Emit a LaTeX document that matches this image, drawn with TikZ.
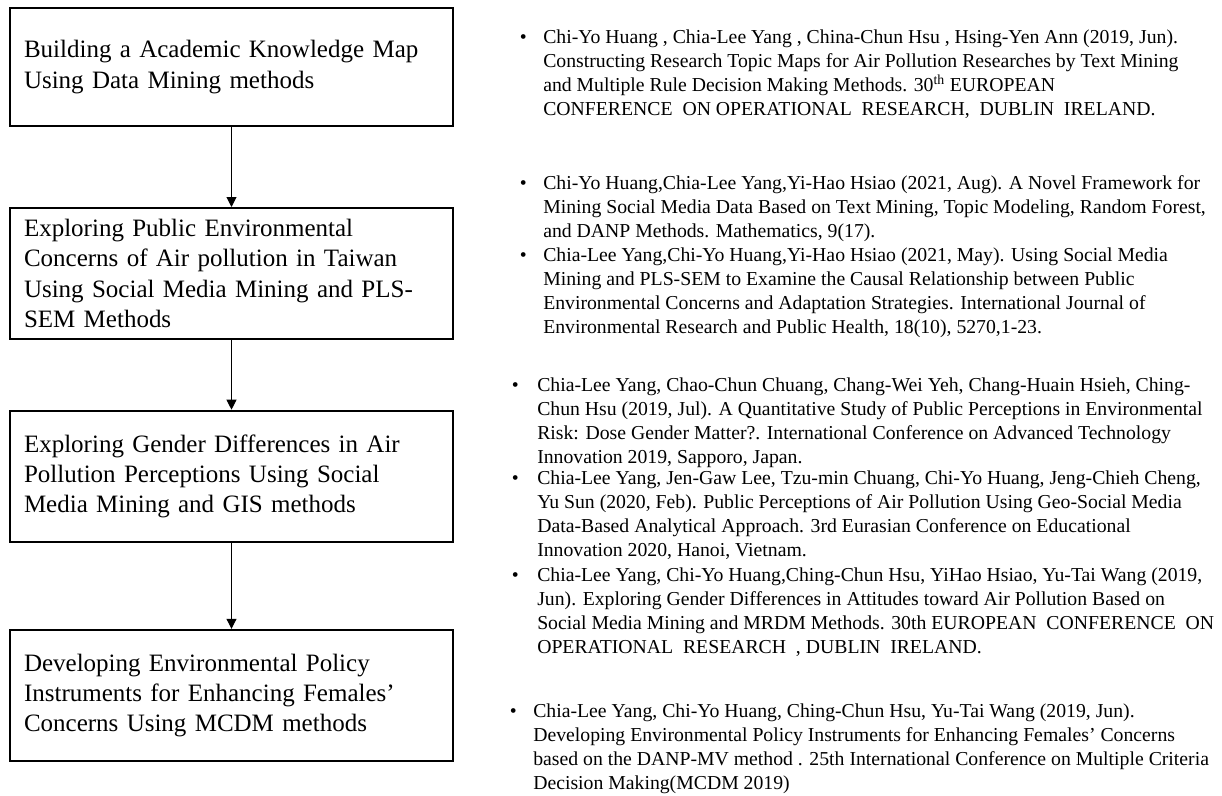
\documentclass[tikz,border=0pt]{standalone}
\usepackage{fontspec}
\setmainfont{Liberation Serif}
\usetikzlibrary{arrows.meta}
\newlength\pxu
\setlength\pxu{0.75pt}
\newcommand\bul[1][16.5]{\llap{\textbullet\hspace{#1\pxu}}}
\begin{document}
\begin{tikzpicture}[x=0.75pt,y=-0.75pt,
	stage/.style={draw,line width=1.5pt,text width=415\pxu,inner xsep=14\pxu,inner ysep=0pt,
		minimum width=443\pxu,minimum height=131\pxu,align=left,font=\fontsize{18.75}{22.7}\selectfont},
	paper/.style={anchor=base west,inner sep=0pt,align=left,font=\fontsize{14.8}{17.8}\selectfont},
	link/.style={-{Triangle[width=7.5pt,length=7.5pt]},line width=0.75pt}]
	\useasboundingbox(0,0)rectangle(1222,796);
	% research stages
	\node[stage,minimum height=118\pxu](map)at(231.5,67){Building a Academic Knowledge Map\\Using Data Mining methods};
	\node[stage](concern)at(231.5,273.5){Exploring Public Environmental\\Concerns of Air pollution in Taiwan\\Using Social Media Mining and PLS-\\SEM Methods};
	\node[stage](gender)at(231.5,476.2){Exploring Gender Differences in Air\\Pollution Perceptions Using Social\\Media Mining and GIS methods};
	\node[stage](policy)at(231.5,695.3){Developing Environmental Policy\\Instruments for Enhancing Females’\\Concerns Using MCDM methods};
	\draw[link](map)--(concern);
	\draw[link](concern)--(gender);
	\draw[link](gender)--(policy);
	% publications (anchored on the last line)
	\node[paper](pub1)at(543,115){\bul Chi-Yo Huang , Chia-Lee Yang , China-Chun Hsu , Hsing-Yen Ann (2019, Jun).\\
		Constructing Research Topic Maps for Air Pollution Researches by Text Mining\\
		and Multiple Rule Decision Making Methods. 30\textsuperscript{th} EUROPEAN\\
		CONFERENCE\ \ ON OPERATIONAL\ \ RESEARCH,\ \ DUBLIN\ \ IRELAND.};
	\node[paper](pub2)at(543,237){\bul Chi-Yo Huang,Chia-Lee Yang,Yi-Hao Hsiao (2021, Aug). A Novel Framework for\\
		Mining Social Media Data Based on Text Mining, Topic Modeling, Random Forest,\\
		and DANP Methods. Mathematics, 9(17).};
	\node[paper](pub3)at(543,333){\bul Chia-Lee Yang,Chi-Yo Huang,Yi-Hao Hsiao (2021, May). Using Social Media\\
		Mining and PLS-SEM to Examine the Causal Relationship between Public\\
		Environmental Concerns and Adaptation Strategies. International Journal of\\
		Environmental Research and Public Health, 18(10), 5270,1-23.};
	\node[paper](pub4)at(537,463){\bul[18.5]Chia-Lee Yang, Chao-Chun Chuang, Chang-Wei Yeh, Chang-Huain Hsieh, Ching-\\
		Chun Hsu (2019, Jul). A Quantitative Study of Public Perceptions in Environmental\\
		Risk: Dose Gender Matter?. International Conference on Advanced Technology\\
		Innovation 2019, Sapporo, Japan.};
	\node[paper](pub5)at(537,556){\bul[18.5]Chia-Lee Yang, Jen-Gaw Lee, Tzu-min Chuang, Chi-Yo Huang, Jeng-Chieh Cheng,\\
		Yu Sun (2020, Feb). Public Perceptions of Air Pollution Using Geo-Social Media\\
		Data-Based Analytical Approach. 3rd Eurasian Conference on Educational\\
		Innovation 2020, Hanoi, Vietnam.};
	\node[paper](pub6)at(537,653){\bul[18.5]Chia-Lee Yang, Chi-Yo Huang,Ching-Chun Hsu, YiHao Hsiao, Yu-Tai Wang (2019,\\
		Jun). Exploring Gender Differences in Attitudes toward Air Pollution Based on\\
		Social Media Mining and MRDM Methods. 30th EUROPEAN\ \ CONFERENCE\ \ ON\\
		OPERATIONAL\ \ RESEARCH\ \ , DUBLIN\ \ IRELAND.};
	\node[paper](pub7)at(533,789){\bul Chia-Lee Yang, Chi-Yo Huang, Ching-Chun Hsu, Yu-Tai Wang (2019, Jun).\\
		Developing Environmental Policy Instruments for Enhancing Females’ Concerns\\
		based on the DANP-MV method . 25th International Conference on Multiple Criteria\\
		Decision Making(MCDM 2019)};
\end{tikzpicture}
\end{document}
